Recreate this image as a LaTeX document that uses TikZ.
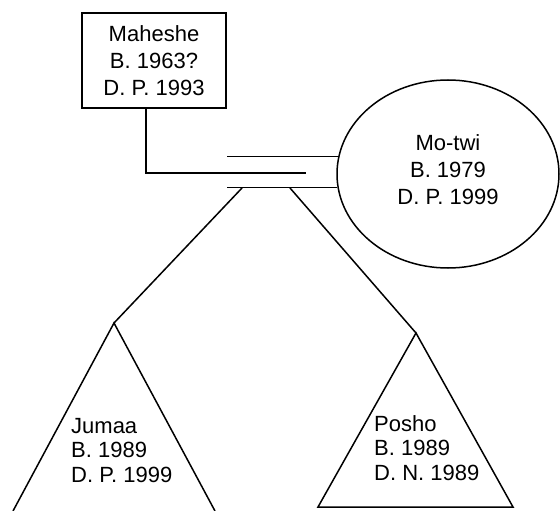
\documentclass[tikz,border=0pt]{standalone}
\usepackage{fontspec}
\setmainfont{Liberation Sans}
\usetikzlibrary{calc,shapes.geometric}
\begin{document}
\begin{tikzpicture}[x=1pt,y=-1pt,
  ln/.style={line width=1.5pt,line join=miter},
  persontext/.style={font=\fontsize{22}{27}\selectfont,align=center,inner sep=0pt},
  childtext/.style={font=\fontsize{22}{24.5}\selectfont,align=left,inner sep=0pt,anchor=north west}]
\useasboundingbox (0,0) rectangle (560,511);
% Maheshe box
\node[draw,line width=1.8pt,minimum width=144pt,minimum height=95pt,persontext] (mah) at (154,60.5)
  {Maheshe\\B. 1963?\\D. P. 1993};
% Mo-twi ellipse
\node[draw,ellipse,line width=1.5pt,minimum width=222pt,minimum height=188pt,inner sep=0pt] (mo) at (448,174) {};
\node[persontext] (motxt) at (448,170) {Mo-twi\\B. 1979\\D. P. 1999};
% connectors
\coordinate (stem) at ($(mah.south west)!0.444!(mah.south east)$);
\coordinate (mj) at (306,173);
\draw[ln] (stem) |- (mj);
\draw[ln] (mo.171.15) -- (mo.171.15 -| mah.east);
\draw[ln] (mo.187.27) -- (mo.187.27 -| mah.east);
\coordinate (dl) at (242,188);
\coordinate (dr) at (290,188);
\coordinate (ja) at (114,323);
\coordinate (pa) at (416,333);
\draw[ln] (dl) -- (ja);
\draw[ln] (dr) -- (pa);
% Jumaa triangle
\coordinate (jl) at (13,511);
\coordinate (jr) at (215,511);
\draw[ln] (jl) -- (ja) -- (jr);
\node[childtext] (jum) at (71,418) {Jumaa\\B. 1989\\D. P. 1999};
% Posho triangle
\coordinate (pl) at (318,507);
\coordinate (pr) at (513,507);
\draw[ln] (pa) -- (pr) -- (pl) -- cycle;
\node[childtext] (pos) at (374,415) {Posho\\B. 1989\\D. N. 1989};
\end{tikzpicture}
\end{document}
